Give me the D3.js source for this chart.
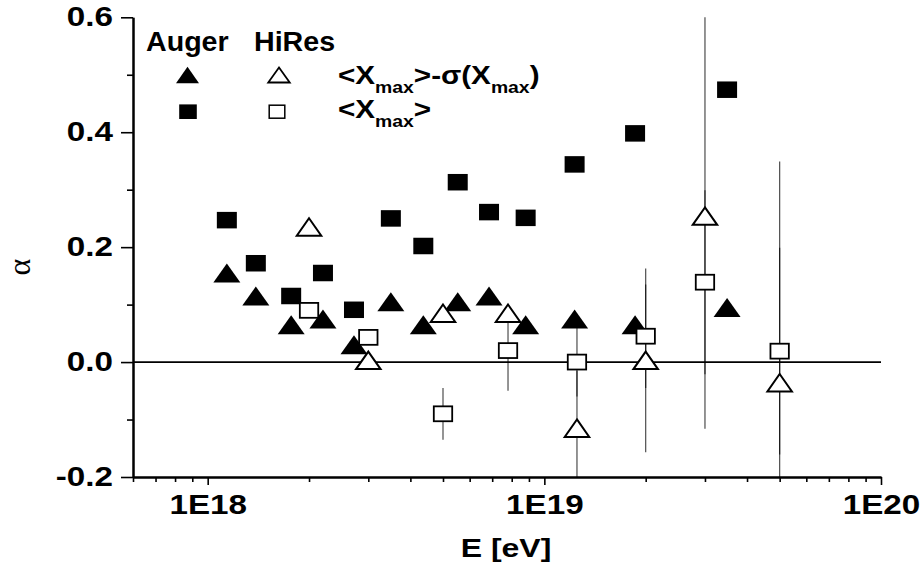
<!DOCTYPE html>
<html><head><meta charset="utf-8">
<script src="https://cdn.jsdelivr.net/npm/d3@7"></script>
<style>body{margin:0;background:#fff;} svg{display:block;font-family:"Liberation Sans",Arial,sans-serif;}</style>
</head><body>
<svg id="c" width="923" height="575"></svg>
<script>
// ---- data ----
const augerE = [1.14e18, 1.39e18, 1.77e18, 2.2e18, 2.72e18, 3.5e18, 4.37e18, 5.53e18, 6.85e18, 8.8e18, 1.23e19, 1.86e19, 3.49e19];
const augerMean = [0.247, 0.172, 0.115, 0.155, 0.091, 0.250, 0.202, 0.313, 0.261, 0.251, 0.344, 0.398, 0.474];
const augerMinusSigma = [0.155, 0.115, 0.065, 0.075, 0.030, 0.105, 0.065, 0.105, 0.115, 0.065, 0.075, 0.065, 0.095];
const hiresE = [2e18, 3e18, 5e18, 7.8e18, 1.25e19, 2e19, 3e19, 5e19];
const hiresMean = [0.090, 0.043, -0.090, 0.020, 0.000, 0.045, 0.139, 0.019];
const hiresMeanErr = [0.01, 0.01, 0.045, 0.07, 0.06, 0.09, 0.16, 0.18];
const hiresMinusSigma = [0.235, 0.003, 0.085, 0.085, -0.115, 0.003, 0.254, -0.036];
const hiresMinusSigmaErr = [0.01, 0.01, 0.01, 0.015, 0.10, 0.16, 0.37, 0.385];
const xMajor = [1e18, 1e19, 1e20];
const xMinor = [6e17,7e17,8e17,9e17,2e18,3e18,4e18,5e18,6e18,7e18,8e18,9e18,2e19,3e19,4e19,5e19,6e19,7e19,8e19,9e19];
const yMajor = [-0.2, 0.0, 0.2, 0.4, 0.6];
const yMinor = [-0.1, 0.1, 0.3, 0.5];
const xTitle = "E [eV]";
const yTitle = "\u03B1";
const expNames = ["Auger", "HiRes"];

// ---- scales ----
const L = 133, R = 881, T = 17.3, B = 477;
const x = d3.scaleLog().domain([6e17, 1e20]).range([L, R]);
const y = d3.scaleLinear().domain([-0.2, 0.6]).range([B, T]);
const svg = d3.select('#c');

svg.append('defs').append('clipPath').attr('id','clip')
  .append('rect').attr('x', L).attr('y', T).attr('width', R - L).attr('height', B - T);

const SX = 1.23;
// ---- axes ----
const yAxMinor = svg.append('g').attr('transform', `translate(${L},0)`)
  .call(d3.axisLeft(y).tickValues(yMinor).tickSize(6).tickSizeOuter(0).tickFormat(''));
const yAx = svg.append('g').attr('transform', `translate(${L},0)`)
  .call(d3.axisLeft(y).tickValues(yMajor).tickSize(12).tickSizeOuter(0).tickPadding(8).tickFormat(d => d.toFixed(1)));
const xAxMinor = svg.append('g').attr('transform', `translate(0,${B})`)
  .call(d3.axisBottom(x).tickValues(xMinor).tickSize(5).tickSizeOuter(0).tickFormat(''));
const xAx = svg.append('g').attr('transform', `translate(0,${B})`)
  .call(d3.axisBottom(x).tickValues(xMajor).tickSize(8).tickSizeOuter(0).tickPadding(10).tickFormat(d => '1E' + Math.round(Math.log10(d))));

[yAxMinor, yAx, xAxMinor, xAx].forEach(g => {
  g.selectAll('path.domain').attr('stroke', '#000').attr('stroke-width', 2);
  g.selectAll('.tick line').attr('stroke', '#000').attr('stroke-width', 1.6);
});
yAx.selectAll('.tick text').attr('font-size', 27).attr('font-weight', 'bold').attr('fill', '#000')
  .attr('font-family', '"Liberation Sans",Arial,sans-serif')
  .attr('x', -20 / SX).attr('transform', `scale(${SX},1)`);
xAx.selectAll('.tick text').attr('font-size', 27).attr('font-weight', 'bold').attr('fill', '#000')
  .attr('font-family', '"Liberation Sans",Arial,sans-serif')
  .attr('transform', `scale(${SX},1)`);

// zero line
svg.append('line').attr('x1', L).attr('x2', R).attr('y1', y(0)).attr('y2', y(0))
  .attr('stroke', '#000').attr('stroke-width', 1.6);

// titles
svg.append('text').attr('transform', `translate(506,557) scale(${SX},1)`)
  .attr('text-anchor', 'middle').attr('font-size', 26).attr('font-weight', 'bold').text(xTitle);
svg.append('text').attr('transform', `translate(30,267) rotate(-90)`)
  .attr('text-anchor', 'middle').attr('font-size', 32).attr('font-family', '"Liberation Serif","DejaVu Serif",serif').text(yTitle);

// ---- marker helpers ----
function triPath(cx, cy, w, h) {
  return `M${cx},${cy - h/2}L${cx + w/2},${cy + h/2}L${cx - w/2},${cy + h/2}Z`;
}
const TW = 26, TH = 19, SW = 20, SH = 16.5;

// ---- error bars (HiRes) ----
const eb = svg.append('g').attr('clip-path', 'url(#clip)');
hiresE.forEach((e, i) => {
  eb.append('line').attr('x1', x(e)).attr('x2', x(e))
    .attr('y1', y(hiresMinusSigma[i] + hiresMinusSigmaErr[i])).attr('y2', y(hiresMinusSigma[i] - hiresMinusSigmaErr[i]))
    .attr('stroke', '#000').attr('stroke-opacity', 0.7).attr('stroke-width', 1.2);
  eb.append('line').attr('x1', x(e)).attr('x2', x(e))
    .attr('y1', y(hiresMean[i] + hiresMeanErr[i])).attr('y2', y(hiresMean[i] - hiresMeanErr[i]))
    .attr('stroke', '#000').attr('stroke-opacity', 0.7).attr('stroke-width', 1.2);
});

// ---- Auger markers ----
const pts = svg.append('g');
pts.selectAll('rect.am').data(augerE).join('rect').attr('class', 'am')
  .attr('x', d => x(d) - SW/2).attr('y', (d, i) => y(augerMean[i]) - SH/2)
  .attr('width', SW).attr('height', SH).attr('fill', '#000');
pts.selectAll('path.as').data(augerE).join('path').attr('class', 'as')
  .attr('d', (d, i) => triPath(x(d), y(augerMinusSigma[i]), TW + 1, TH)).attr('fill', '#000');

// ---- HiRes markers ----
pts.selectAll('rect.hm').data(hiresE).join('rect').attr('class', 'hm')
  .attr('x', d => x(d) - SW/2 + 0.8).attr('y', (d, i) => y(hiresMean[i]) - SH/2 + 0.8)
  .attr('width', SW - 1.6).attr('height', SH - 1.6).attr('fill', '#fff').attr('stroke', '#000').attr('stroke-width', 1.8);
pts.selectAll('path.hs').data(hiresE).join('path').attr('class', 'hs')
  .attr('d', (d, i) => triPath(x(d), y(hiresMinusSigma[i]), TW - 1.5, TH - 1.5))
  .attr('fill', '#fff').attr('stroke', '#000').attr('stroke-width', 2).attr('stroke-linejoin', 'miter');

// ---- legend ----
const lg = svg.append('g');
lg.append('text').attr('transform', 'translate(146,51) scale(1.06,1)').attr('font-size', 27).attr('font-weight', 'bold').text(expNames[0]);
lg.append('text').attr('transform', 'translate(254,51) scale(1.06,1)').attr('font-size', 27).attr('font-weight', 'bold').text(expNames[1]);
lg.append('path').attr('d', triPath(187.5, 75, 23, 16.5)).attr('fill', '#000');
lg.append('path').attr('d', triPath(279, 75, 21.5, 15)).attr('fill', '#fff').attr('stroke', '#000').attr('stroke-width', 1.8);
lg.append('rect').attr('x', 188 - 8.8).attr('y', 111.7 - 7.3).attr('width', 17.6).attr('height', 14.6).attr('fill', '#000');
lg.append('rect').attr('x', 277 - 7.8).attr('y', 111.7 - 6.5).attr('width', 15.6).attr('height', 13).attr('fill', '#fff').attr('stroke', '#000').attr('stroke-width', 1.5);

function legText(yb, parts) {
  const t = lg.append('text').attr('transform', `translate(338,${yb}) scale(1.14,1)`).attr('font-size', 26).attr('font-weight', 'bold');
  let sub = false;
  parts.forEach(p => {
    const isSub = p === 'max';
    const ts = t.append('tspan').text(p);
    if (isSub && !sub) { ts.attr('font-size', 17).attr('dy', 9); sub = true; }
    else if (!isSub && sub) { ts.attr('dy', -9); sub = false; }
  });
}
legText(84, ['<X', 'max', '>-\u03C3(X', 'max', ')']);
legText(118, ['<X', 'max', '>']);
</script>
</body></html>
